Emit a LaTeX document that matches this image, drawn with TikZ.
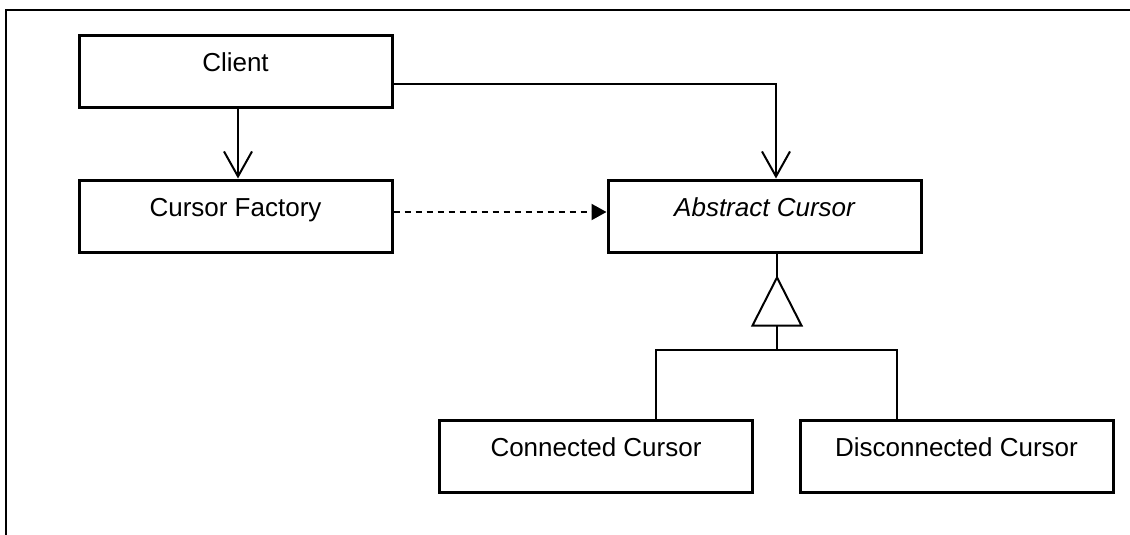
\documentclass[tikz,border=0pt]{standalone}
\usepackage{fontspec}
\setmainfont{Liberation Sans}
\usetikzlibrary{arrows.meta,calc}

\tikzset{
  classbox/.style={draw, line width=3pt, inner sep=0pt, minimum width=313pt,
    text height=36pt, text depth=36pt, font=\fontsize{26}{30}\selectfont},
  link/.style={draw, line width=2pt},
  assoc/.style={link, -{Straight Barb[length=25pt, width=28pt, line width=2pt]}},
  depend/.style={link, dash pattern=on 6pt off 5pt,
    -{Triangle[length=15pt, width=16pt]}},
  frameline/.style={line width=2.5pt}
}

\begin{document}
\begin{tikzpicture}[x=1pt, y=-1pt]
  \useasboundingbox (0,0) rectangle (1130,535);

  % open frame: top and left edges only
  \coordinate (fleft) at (6,535);
  \coordinate (fcorner) at (6,10);
  \coordinate (fright) at (1130,10);
  \draw[frameline] (fleft) -- (fcorner) -- (fright);

  % classes
  \node[classbox] (client) at (235.5,71.5) {Client};
  \node[classbox] (factory) at (235.5,216) {Cursor Factory};
  \node[classbox] (abstract) at (764.5,216) {\itshape Abstract Cursor};
  \node[classbox] (connected) at (596,456) {Connected Cursor};
  \node[classbox] (disconnected) at (956.5,456) {Disconnected Cursor};

  % associations
  \draw[assoc] ([xshift=2.5pt]client.south) -- ([xshift=2.5pt]factory.north);
  \draw[assoc] ([yshift=-12.5pt]client.east) -| ([xshift=11.5pt]abstract.north);

  % dependency
  \draw[depend] ([yshift=4pt]factory.east) -- ([yshift=4pt]abstract.west);

  % generalization
  \coordinate (gen) at ([xshift=12.5pt]abstract.south);
  \coordinate (apex) at ($(gen)+(0,24)$);
  \coordinate (base) at ($(gen)+(0,72)$);
  \coordinate (split) at ($(gen)+(0,96)$);
  \draw[link] (gen) -- (apex);
  \draw[link, line join=miter] (apex) -- ($(base)+(-24.5,0)$) -- ($(base)+(24.5,0)$) -- cycle;
  \draw[link] (base) -- (split);
  \draw[link] ([xshift=60pt]connected.north) |- (split)
    -| ([xshift=-59.5pt]disconnected.north);
\end{tikzpicture}
\end{document}
